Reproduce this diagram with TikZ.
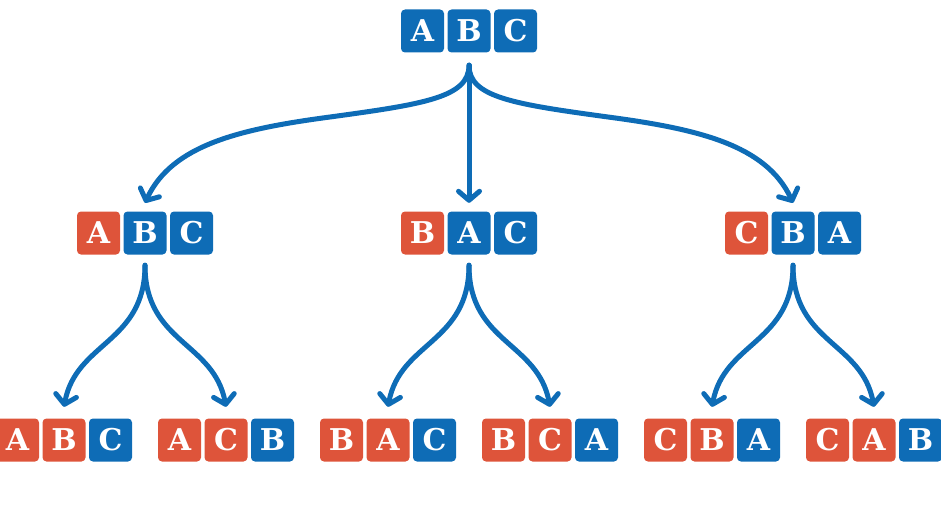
\documentclass[tikz,border=0pt]{standalone}
\usepackage{fontspec}
\newfontfamily\boxfont{DejaVu Serif}
\usetikzlibrary{arrows.meta}
\definecolor{cblue}{RGB}{14,108,182}
\definecolor{cred}{RGB}{222,84,58}
\tikzset{
  lbox/.style={minimum width=43pt, minimum height=43pt, inner sep=0pt, rounded corners=4pt,
    text=white, font=\boxfont\bfseries\fontsize{30}{30}\selectfont, text height=21.5pt, text depth=0pt},
  bb/.style={lbox, fill=cblue},
  rb/.style={lbox, fill=cred},
  arr/.style={draw=cblue, line width=5pt, line cap=round,
    -{Straight Barb[length=9pt,width=21pt,line cap=round,line join=round]}}
}
\begin{document}
\begin{tikzpicture}[x=1pt,y=-1pt]
\useasboundingbox (0,0) rectangle (941,508);
% top
\node[bb] (t1) at (422.5,31) {A};
\node[bb] (t2) at (469,31) {B};
\node[bb] (t3) at (515.5,31) {C};
% middle
\node[rb] (m1a) at (98.5,233) {A};
\node[bb] (m1b) at (145,233) {B};
\node[bb] (m1c) at (191.5,233) {C};
\node[rb] (m2a) at (422.5,233) {B};
\node[bb] (m2b) at (469,233) {A};
\node[bb] (m2c) at (515.5,233) {C};
\node[rb] (m3a) at (746.5,233) {C};
\node[bb] (m3b) at (793,233) {B};
\node[bb] (m3c) at (839.5,233) {A};
% bottom
\node[rb] (b1a) at (17.5,440) {A};
\node[rb] (b1b) at (64,440) {B};
\node[bb] (b1c) at (110.5,440) {C};
\node[rb] (b2a) at (179.5,440) {A};
\node[rb] (b2b) at (226,440) {C};
\node[bb] (b2c) at (272.5,440) {B};
\node[rb] (b3a) at (341.5,440) {B};
\node[rb] (b3b) at (388,440) {A};
\node[bb] (b3c) at (434.5,440) {C};
\node[rb] (b4a) at (503.5,440) {B};
\node[rb] (b4b) at (550,440) {C};
\node[bb] (b4c) at (596.5,440) {A};
\node[rb] (b5a) at (665.5,440) {C};
\node[rb] (b5b) at (712,440) {B};
\node[bb] (b5c) at (758.5,440) {A};
\node[rb] (b6a) at (827.5,440) {C};
\node[rb] (b6b) at (874,440) {A};
\node[bb] (b6c) at (920.5,440) {B};
% bend points
\coordinate (kl) at (330,117);
\coordinate (kr) at (608,117);
% top arrows
\draw[arr] ([yshift=-12.5pt]t2.south) .. controls +(0,32) and +(95,-13) .. (kl)
  .. controls +(-90,12) and +(27,-58) .. ([yshift=8.5pt]m1b.north);
\draw[arr] ([yshift=-12.5pt]t2.south) -- ([yshift=8.5pt]m2b.north);
\draw[arr] ([yshift=-12.5pt]t2.south) .. controls +(0,32) and +(-95,-13) .. (kr)
  .. controls +(90,12) and +(-27,-58) .. ([yshift=8.5pt]m3b.north);
% lower arrows
\foreach \m/\l/\r in {m1b/b1b/b2b, m2b/b3b/b4b, m3b/b5b/b6b}{
  \draw[arr] ([yshift=-10.5pt]\m.south) .. controls +(0,78) and +(12,-65) .. ([yshift=11.5pt]\l.north);
  \draw[arr] ([yshift=-10.5pt]\m.south) .. controls +(0,78) and +(-12,-65) .. ([yshift=11.5pt]\r.north);
}
\end{tikzpicture}
\end{document}
